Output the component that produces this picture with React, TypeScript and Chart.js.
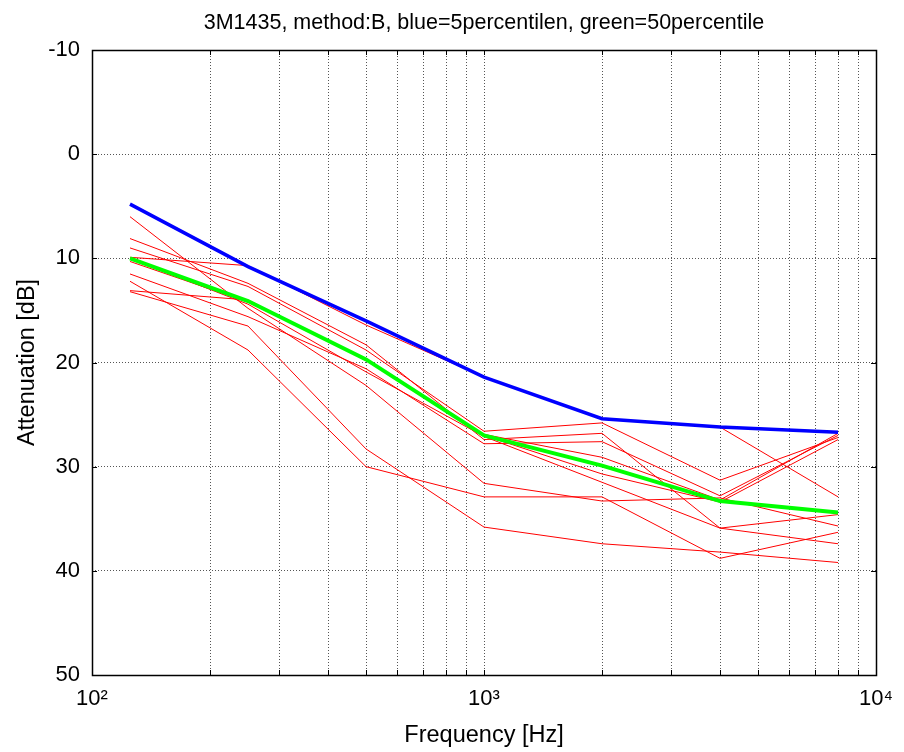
import { useEffect, useRef } from 'react';
import { Chart, registerables } from 'chart.js';

Chart.register(...registerables);

const FONT = "'Liberation Sans', Arial, Helvetica, sans-serif";

const TITLE = '3M1435, method:B, blue=5percentilen, green=50percentile';
const X_TITLE = 'Frequency [Hz]';
const Y_TITLE = 'Attenuation [dB]';

const FREQS = [125, 250, 500, 1000, 2000, 4000, 8000];

const BLUE_P5 = [4.8, 10.8, 16.0, 21.4, 25.4, 26.2, 26.7];
const GREEN_P50 = [10.0, 14.1, 19.7, 27.0, 29.9, 33.3, 34.4];

const RED_A = [9.9, 10.7, 16.4, 21.4, 25.4, 26.2, 32.9];
const RED_B = [6.0, 14.8, 22.2, 31.6, 33.3, 33.0, 35.7];
const RED_C = [8.1, 12.4, 18.3, 27.4, 26.8, 35.9, 34.6];
const RED_D = [9.0, 12.7, 18.8, 26.6, 25.8, 31.3, 27.2];
const RED_E = [11.5, 15.6, 20.6, 27.8, 27.6, 32.8, 27.0];
const RED_F = [12.2, 18.8, 30.0, 32.9, 32.9, 38.8, 36.3];
const RED_G = [13.1, 14.0, 19.8, 26.9, 29.1, 33.2, 26.8];
const RED_H = [13.2, 16.5, 28.3, 35.8, 37.4, 38.2, 39.2];
const RED_I = [10.0, 14.4, 20.9, 27.1, 31.5, 35.9, 37.4];
const RED_J = [10.3, 14.2, 19.7, 27.0, 30.7, 33.4, 27.4];

const RED_SERIES = [RED_A, RED_B, RED_C, RED_D, RED_E, RED_F, RED_G, RED_H, RED_I, RED_J];

const X_GRID = [100, 200, 300, 400, 500, 600, 700, 800, 900, 1000, 2000, 3000, 4000, 5000, 6000, 7000, 8000, 9000, 10000];
const X_LABEL_VALUES = [100, 1000, 10000];
const X_LABEL_TEXT = ['10²', '10³', '10⁴'];

const Y_MIN = -10;
const Y_MAX = 50;
const Y_STEP = 10;

const toPoints = (vals: number[]) => FREQS.map((f, i) => ({ x: f, y: vals[i] }));

const framePlugin = {
  id: 'frame',
  afterDraw(chart: any) {
    const { ctx, chartArea } = chart;
    const { left, right, top, bottom } = chartArea;
    const xs = chart.scales.x;
    const ys = chart.scales.y;
    ctx.save();
    ctx.strokeStyle = '#000';
    ctx.lineWidth = 1;
    ctx.beginPath();
    const tl = 5;
    X_GRID.forEach((v) => {
      const px = Math.round(xs.getPixelForValue(v)) + 0.5;
      ctx.moveTo(px, bottom);
      ctx.lineTo(px, bottom - tl);
      ctx.moveTo(px, top);
      ctx.lineTo(px, top + tl);
    });
    for (let v = Y_MIN; v <= Y_MAX; v += Y_STEP) {
      const py = Math.round(ys.getPixelForValue(v)) + 0.5;
      ctx.moveTo(left, py);
      ctx.lineTo(left + tl, py);
      ctx.moveTo(right, py);
      ctx.lineTo(right - tl, py);
    }
    ctx.stroke();
    ctx.lineWidth = 1.5;
    ctx.strokeRect(Math.round(left) + 0.5, Math.round(top) + 0.5, Math.round(right - left), Math.round(bottom - top));
    ctx.restore();
  },
};

export default function App() {
  const ref = useRef<HTMLCanvasElement | null>(null);

  useEffect(() => {
    if (!ref.current) return;
    const datasets: any[] = [
      {
        label: 'blue',
        data: toPoints(BLUE_P5),
        borderColor: '#0000ff',
        backgroundColor: '#0000ff',
        borderWidth: 3.5,
        pointRadius: 0,
        tension: 0,
      },
      {
        label: 'green',
        data: toPoints(GREEN_P50),
        borderColor: '#00ff00',
        backgroundColor: '#00ff00',
        borderWidth: 4,
        pointRadius: 0,
        tension: 0,
      },
      ...RED_SERIES.map((s, i) => ({
        label: 'red ' + (i + 1),
        data: toPoints(s),
        borderColor: '#ff0000',
        backgroundColor: '#ff0000',
        borderWidth: 1,
        pointRadius: 0,
        tension: 0,
      })),
    ];

    const chart = new Chart(ref.current, {
      type: 'line',
      data: { datasets },
      plugins: [framePlugin],
      options: {
        animation: false,
        responsive: false,
        layout: { padding: { left: 0, right: 18, top: 0, bottom: 0 } },
        plugins: {
          legend: { display: false },
          tooltip: { enabled: false },
          title: {
            display: true,
            text: TITLE,
            fullSize: false,
            color: '#000',
            font: { family: FONT, size: 21.5, weight: 'normal' },
            padding: { top: 10, bottom: 14.2 },
          },
        },
        scales: {
          x: {
            type: 'logarithmic',
            min: 100,
            max: 10000,
            afterBuildTicks: (s: any) => {
              s.ticks = X_GRID.map((v) => ({ value: v }));
            },
            afterFit: (s: any) => {
              s.height = 77;
            },
            ticks: {
              autoSkip: false,
              maxRotation: 0,
              color: '#000',
              padding: 11,
              font: { family: FONT, size: 22 },
              callback: (v: any) => {
                const idx = X_LABEL_VALUES.indexOf(Number(v));
                return idx >= 0 ? X_LABEL_TEXT[idx] : '';
              },
            },
            grid: { color: '#555', drawTicks: false, lineWidth: 1 },
            border: { display: false, dash: [1, 2] },
            title: {
              display: true,
              text: X_TITLE,
              color: '#000',
              font: { family: FONT, size: 23.5 },
              padding: { top: 0, bottom: 2 },
            },
          },
          y: {
            type: 'linear',
            min: Y_MIN,
            max: Y_MAX,
            reverse: true,
            afterFit: (s: any) => {
              s.width = 92;
            },
            ticks: {
              stepSize: Y_STEP,
              color: '#000',
              padding: 12,
              font: { family: FONT, size: 22 },
            },
            grid: { color: '#555', drawTicks: false, lineWidth: 1 },
            border: { display: false, dash: [1, 2] },
            title: {
              display: true,
              text: Y_TITLE,
              color: '#000',
              font: { family: FONT, size: 23.5 },
              padding: { top: 13, bottom: 0 },
            },
          },
        },
      },
    });
    return () => chart.destroy();
  }, []);

  return (
    <div style={{ position: 'absolute', left: 0, top: 0, width: 904, height: 752, background: '#fff' }}>
      <canvas ref={ref} width={904} height={752} style={{ display: 'block' }} />
    </div>
  );
}
